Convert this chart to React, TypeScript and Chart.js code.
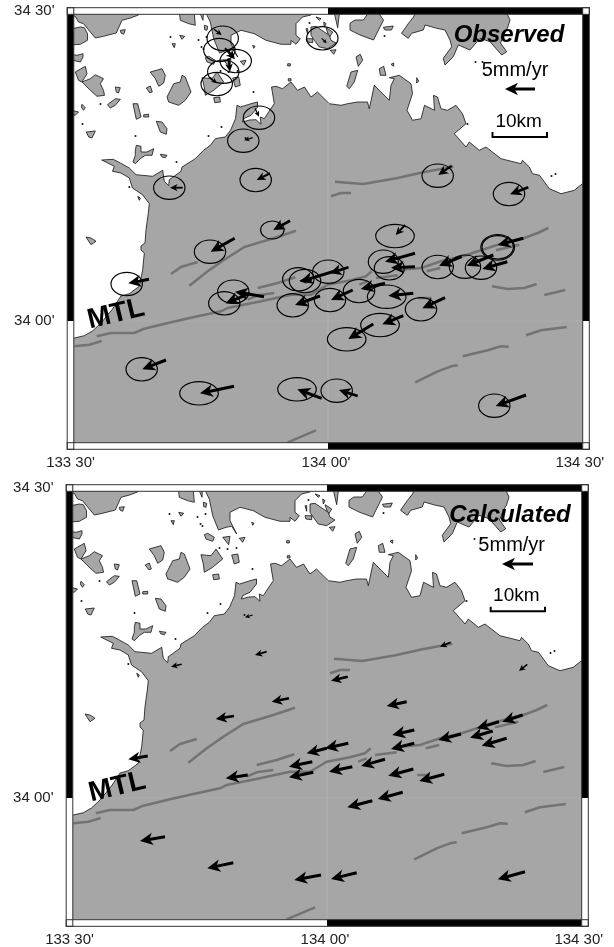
import React, { useEffect, useRef } from "react";
import { Chart, registerables } from "chart.js";
Chart.register(...registerables);

type P = [number, number];
// Map grid: x 0..515.5 spans 133 30' .. 134 30', y 0..435 runs south from 34 30'.
const xTickValues = [0, 257.5, 515.5];
const xTickLabels = ["133 30'", "134 00' ", "134 30'   "];
const yTickValues = [0, 310];
const yTickLabels = ["34 30'", "34 00'"];

const shikoku: P[] = [[-5,327],[3.8,327],[13.8,324.7],[22,320],[30.5,312],[42,298],[50.5,285],[58.8,282.7],[68.8,275.3],[72.2,258.7],[73.8,242],[70.5,239],[70.5,235],[74.5,232],[75.5,218.7],[77.8,202],[78.8,192.7],[72,183.7],[62,177],[58.8,167],[50.5,162],[42,160.3],[43.8,155.3],[31.2,149],[42.8,148.3],[49.8,152],[58.8,157],[65.5,163.7],[82.2,165.3],[92.2,159.3],[93.8,170.3],[98.2,174.7],[98.8,168.7],[110.5,160.3],[111.5,156],[124.8,147.7],[133,139.3],[139.8,134.3],[144.8,127.7],[154.8,126],[160,119.3],[165,107.7],[166.5,94.3],[170,96],[180.5,92.7],[187,91],[187,96],[180.5,104.3],[173,107.7],[172,111],[179,109],[185.5,108.7],[190.5,113.3],[189.8,106],[193.8,107.7],[198.8,100],[203.8,92.7],[201,76],[205.5,75.3],[212,77.7],[220.5,71],[227,79.3],[234,76],[240.5,86],[247,81],[258.8,92.7],[270.5,94.3],[277,92.7],[287,91],[297,91],[298.8,97.7],[303.8,74.3],[318.8,89.3],[320.5,74.3],[323.8,67.7],[318.8,66.7],[328.8,64.3],[340.5,72.7],[342,82.7],[336.5,99.3],[342,109.3],[350.5,107.7],[354,94.3],[364,99.3],[363,84.3],[367,86],[370.5,97.7],[377,99.3],[385.5,94.3],[392,102.7],[395.5,112.7],[383.8,122.7],[395.5,136],[398.8,131],[408.8,139.3],[415.5,136],[430.5,147.7],[450.5,152.7],[452,149.3],[458.8,156],[462,162.7],[469,164.3],[478.8,177.7],[490.5,182.7],[503.8,179.3],[512,172.7],[525,168],[525,445],[-5,445]];

const honshuWest: P[] = [[-5,-5],[68,-5],[68,4],[60,7],[51.5,9.3],[45.8,22],[33,25.3],[24.8,27],[19,20],[13,12.7],[8,11],[4.8,5.3],[-5,5]];
const honshuMid: P[] = [[136.5,-5],[240.5,-5],[240.5,4],[232,6],[225.5,12.7],[225.5,24.3],[229.8,27.7],[225.5,33.3],[220.5,29.3],[220.5,33.3],[210.5,33.3],[195.5,29.3],[183.8,22.7],[170.5,19.3],[160.5,24.3],[160.5,32.7],[167.2,46],[162.2,38.3],[156.5,39.3],[149,42],[143.2,27.7],[141.5,19.3],[139.8,11],[136.5,4.3]];
const honshuEast: P[] = [[331,22.3],[338,12.3],[343,6],[348,-5],[433,-5],[439.5,9],[437,17],[434,22],[430,32],[436.2,40.7],[431.2,44],[419.5,30.7],[409.5,27.3],[399.5,39],[387.8,34],[382.8,45.7],[374.5,54],[372.8,47.3],[381.2,35.7],[379.5,29],[374.5,19],[366.2,17.3],[354.5,14],[352.8,19],[341.2,22.3],[337.8,27.3]];

const islands: P[][] = [
  [[-5,19],[9.8,16],[13.8,16.7],[17,22.7],[17,29.3],[9.8,33.3],[-5,34.3]],
  [[-5,42.7],[6.5,44.3],[12.5,42.7],[12.5,46],[9.8,51],[-5,47.7]],
  [[4.8,61],[14.8,55.3],[16.5,62.7],[11.5,71],[8,69.3]],
  [[11.5,71],[19.8,67.7],[24.8,63.7],[33,67.7],[29.8,72.7],[33,79.3],[34,84.3],[26.5,85.3],[19.8,79.3]],
  [[44.8,76],[49.8,76.7],[48,82],[45.8,81]],
  [[37,93.7],[44.8,87.7],[49.8,88.3],[44.8,94.3],[39.8,97]],
  [[-5,97.7],[8,101],[4.8,104.3],[-5,102.7]],
  [[11.5,93.3],[14.8,96.7],[13,99.3],[10.8,96]],
  [[15.8,121],[24.8,120],[21.5,127],[18.2,126]],
  [[62.5,92.7],[67.2,92.7],[70.5,106],[65.8,108.3]],
  [[73.2,103.7],[78.2,103.3],[78.2,106],[73.2,106]],
  [[85.8,110.3],[91.5,111],[96.5,117.7],[95.8,123.3],[89.8,121]],
  [[89.8,143.3],[96.5,144.3],[94.8,146.7],[91.5,146]],
  [[65.8,134.3],[70.5,135.3],[70.5,141],[76.5,141],[83.2,137.7],[81.5,144.3],[74.8,144.3],[69.8,147.7],[64.8,152.7],[62.5,151],[64.8,144.3],[64.8,139.3]],
  [[79.8,61],[91.5,57.7],[94.8,64.3],[93.2,72],[88.2,75.3],[84.8,67.7]],
  [[75.8,77],[79.8,75],[81.8,81],[79.2,81.7]],
  [[111.5,64.3],[114.8,66],[120.5,81],[114.8,89.3],[108.2,94.3],[98.2,91],[96.5,86],[103.2,72.7],[109.8,71]],
  [[49.8,19.3],[54.8,18.7],[53.2,23.3],[50.5,22]],
  [[109.2,24.3],[114.2,25.3],[111.5,28.3]],
  [[101.5,32.7],[104.8,32.7],[103.8,36.7]],
  [[108.2,-5],[123.2,-5],[124.8,14.3],[118.2,12.7],[109.8,9.3]],
  [[126.5,-5],[133.2,-5],[132.5,9.3]],
  [[133.8,14.3],[137.2,15.3],[136.5,19.3],[134.2,18.7]],
  [[134.8,46.7],[138.2,45.3],[144.8,49.3],[143.2,53.3],[136.5,51]],
  [[153.2,49.3],[160.5,48.3],[159.2,56.7]],
  [[169.8,50.3],[175.5,49.3],[173.2,54.3]],
  [[131.5,66.7],[141.5,67.7],[146.5,61],[153.2,71],[143.2,79.3],[134.8,84.3],[133.8,76]],
  [[162.2,67],[168.2,66],[169.8,74.3],[164.8,76]],
  [[143.2,86.7],[149.2,86],[149.8,91],[144.2,91.7]],
  [[240.5,16],[245.5,15.3],[253.8,21],[258.8,24.3],[260.5,29.3],[265.5,32],[257.2,37.7],[248.8,36],[243.8,29.3],[240.5,24.3]],
  [[235.5,17.7],[237.2,17.7],[237.2,23.3]],
  [[235.5,27.7],[242.2,27.7],[242.2,31.7],[236.5,31]],
  [[245.5,6],[250.5,7.7],[248.8,9.3]],
  [[253.2,11],[255.5,12.7],[253.8,16]],
  [[255.5,16.7],[262.2,21],[258.8,26.7]],
  [[259.8,39.3],[265.5,38.7],[263.2,43.3]],
  [[262.2,-5],[269.8,-5],[267.2,16.7]],
  [[279.5,12.3],[284.5,9],[292.8,9],[303,-5],[313,9],[303,29],[289.5,24],[279.5,19]],
  [[312.8,16.3],[322.8,15],[321,19],[314.5,19]],
  [[285.5,46],[289.8,43.3],[292.2,49.3],[287.8,55.3]],
  [[280.5,61],[287.2,59.3],[283.8,71],[278.8,77.7],[276.2,75.3]],
  [[308.8,57.7],[313.2,55.3],[315.5,64.3],[309.8,64.3]],
  [[320.5,53.3],[323.2,52],[323.2,55.3]],
  [[346.2,66.7],[348.2,70],[346.2,72]],
  [[217.2,52.7],[219.8,52.7],[219.8,55],[217.2,55]],
  [[217.8,67.7],[220.5,67.7],[220.5,70],[217.8,70]],
  [[182.2,34.3],[184.5,35.3],[183.2,37.3]],
  [[15.5,226],[20.5,227],[25.5,230.3],[20.5,233.7]],
  [[67.2,185.3],[69.8,187],[68.8,189.3]],
];

const specks: P[] = [[100,26],[136,26],[128,29],[131,36],[133,38],[30,93],[12,113],[65,125],[138,125],[151,116],[106,151],[175,127],[58.8,176],[239,12],[314,25],[183,81],[397,113],[412,51],[405,51],[481,165],[485,163],[167,60],[150,60],[158,61]];

const faults: P[][] = [
  [[26.2,325.3],[40.5,322],[63.8,322],[73.8,317.7],[100.5,311.3],[123.8,306],[150.5,300.3],[157.2,297],[190.5,290.3],[220.5,283.7],[240.5,283.7],[257.2,273.7],[280.5,269.3],[295.5,265.3],[301.2,260.3]],
  [[3.8,335.3],[18.8,333.7],[31.2,330]],
  [[118.8,274.7],[137.2,260.3],[153.8,248.7],[173.8,236],[203.8,227],[225.5,219.7]],
  [[100.5,263],[110.5,256],[127.2,251]],
  [[187.2,277],[207.2,272],[224.8,266.3]],
  [[177.2,288.7],[187.2,284.3],[203.8,282]],
  [[264.5,170.7],[292.8,173],[326,167.3],[352.8,161.3],[382.8,155.7]],
  [[260.5,185.3],[270.5,182],[280.5,182]],
  [[305.5,267],[327.2,264.3]],
  [[288.8,273.7],[297.2,270.3]],
  [[330.5,258.7],[350.5,257],[370.5,250.3],[393.8,244.7],[427.2,233.7],[453.8,227],[467.2,222],[477.8,217]],
  [[356.2,260.3],[369.8,257]],
  [[425.5,239.3],[448.8,233.7]],
  [[421.5,275.3],[437.2,278],[453.8,277],[466.2,273]],
  [[473.8,284],[494.8,279]],
  [[455.5,324.3],[470.5,319.3],[496.2,316]],
  [[392.2,345.3],[417.2,339.3],[430.5,335.3],[438.2,335.7]],
  [[344.8,371.3],[367.2,360.3],[380.5,355.3],[387.2,354.3]],
  [[347.8,287],[360.5,287]],
  [[217.2,431.3],[245.5,419.3]],
];

const graticule: P[][] = [[[257.5,92],[257.5,435]],[[34,310],[515.5,310]]];

// tail x, tail y, head x, head y
const observedArrows: number[][] = [
  [143.5,18.3,151.2,24],[157.8,39,162.8,45.7],[154.5,37.3,164.5,48.3],[157.8,47.3,159.5,60.7],[139.5,66.3,146.2,72.3],
  [184.5,97.3,188.5,105.7],[182.2,126.7,173.8,129.3],[199.5,162.3,186.2,169],[112.2,176.7,99.5,176.7],[251.2,27.3,256.2,32.3],
  [381.2,154.7,367.8,164],[457.8,176.3,439.5,183.3],[334.5,214,325.2,224],[219.5,209.7,202.8,219],[164.2,227.3,140.2,240.7],
  [78.5,268.3,57.8,272.3],[193.5,285.7,164.5,280.7],[179.5,282.3,155.2,292.3],[95.5,349,71.8,358.3],[163.5,375.3,129.5,382.3],
  [251.2,387.3,226.8,378.3],[278,256.3,259.5,262.3],[267.8,259,229.5,270.7],[241.2,269,228.8,269.7],[249.5,285,224.5,294],
  [282.2,279,260.5,289],[314.5,272.3,290.2,278],[342.8,282.3,317.8,284.7],[332.8,304.7,311.8,313.3],[302.8,313,277.8,328],
  [344.5,242.3,314.5,250.7],[344.5,255.7,320.5,256.7],[391.2,245.7,368.5,254.7],[422.8,244,396.2,254.7],[436.8,250.7,411.8,258],
  [452.8,227.3,427.2,234],[374.5,286.7,351.8,297.3],[455.5,384,425.2,395],[287.2,385,268.5,379],
];
// centre x, centre y, radius x, radius y
const observedEllipses: number[][] = [
  [152.2,27.3,15.7,12.3],[148.8,39,15.7,11.7],[165.2,50,15.7,11.7],[152.8,60.7,15.7,11.7],[146.2,73,15.7,11.7],
  [188.5,106.7,15.7,11.7],[172.8,129.7,15.7,11.7],[185.2,169,15.7,11.7],[98.8,176.7,15.7,11.7],[251.8,27.3,15.7,11.7],
  [367.2,164.7,15.7,11.7],[438.5,183,15.7,11.7],[324.5,225,19.3,11.7],[201.8,219,11.7,9],[139.5,240.7,15.7,11.7],
  [56.2,273,15.7,11.7],[162.8,280.7,15.7,11.7],[153.8,292.3,15.7,11.7],[71.2,358.3,15.7,11.7],[128.5,382.3,19.3,11.7],
  [226.5,378.3,19.3,11.7],[257.8,260.7,15.7,11.7],[234.5,270,15.7,11.7],[227.8,268.3,15.7,11.7],[222.2,294.3,15.7,11.7],
  [259.5,289,15.7,11.7],[288.5,280,15.7,11.7],[316.2,285.7,19.3,11.7],[309.5,314,19.3,11.7],[276.2,328.3,19.3,11.7],
  [312.8,250.7,15,11.7],[318.8,257.3,15,11.7],[367.2,256,15.7,11.7],[394.5,255.7,15.7,11.7],[410.5,256.7,15.7,11.7],
  [427.2,236.3,15.7,11.7],[427.2,236.3,16.8,12.8],[350.5,298.3,15.7,11.7],[423.8,394.7,15.7,11.7],[266.2,379.7,15.7,11.7],
];
const calculatedArrows: number[][] = [
  [78.2,268,58.8,271.3],[178.2,287,156.2,290.3],[219.5,210.3,202.2,213.7],[164.5,228,146.2,231],[95.5,348.7,70.5,353],
  [163.8,374.7,137.8,380.3],[251.5,387,224.8,392],[242.8,273.7,219.5,278.7],[243.8,284.3,219.5,289.3],[257.2,260.3,237.2,265.3],
  [278.8,255.3,255.5,260.3],[278.2,188.7,261.5,192.7],[337.2,213.7,317.2,218],[344.8,242,322.8,247],[344.8,255.3,321.5,261],
  [391.5,246,368.8,252],[429.5,233.7,407.2,240.3],[453.2,227,432.8,233.7],[423.2,243,400.5,249.7],[437.2,250.3,412.2,257.7],
  [282.8,278.7,259.5,283.7],[315.5,271.3,291.5,278],[343.8,281,318.8,287.7],[374.8,286.3,349.8,293],[333.2,304.3,308.2,311],
  [302.8,312.7,277.8,319.3],[287.2,384.7,261.5,391],[455.5,383.7,428.2,391.3],[457.8,176.3,449.5,183],[381.2,154.3,370.5,158.7],
  [183.2,127,175.5,129.3],[197.2,163.7,185.5,167],[112.2,176.3,101.5,178.7],
];

interface Panel {
  canvasH: number; left: number; right: number;
  arrows: number[][]; ellipses: number[][];
  refArrow: number[]; bar: P[];
  labels: { text: string; x: number; y: number; font: string; rot?: number }[];
}
const panels: Panel[] = [
  {
    canvasH: 477, left: 70.5, right: 28,
    arrows: observedArrows, ellipses: observedEllipses,
    refArrow: [464.5,78,434.5,78],
    bar: [[422,121],[422,126],[476.5,126],[476.5,121]],
    labels: [
      { text: "Observed", x: 438.5, y: 24, font: "italic bold 24px 'Liberation Sans'" },
      { text: "5mm/yr", x: 444.5, y: 59, font: "20px 'Liberation Sans'" },
      { text: "10km", x: 448.2, y: 111, font: "19px 'Liberation Sans'" },
      { text: "MTL", x: 45.5, y: 303.3, font: "bold 28px 'Liberation Sans'", rot: -13.4 },
    ],
  },
  {
    canvasH: 470, left: 69.5, right: 29,
    arrows: calculatedArrows, ellipses: [],
    refArrow: [463.5,76,432.5,76],
    bar: [[421.2,118.7],[421.2,123.3],[475.5,123.3],[475.5,118.7]],
    labels: [
      { text: "Calculated", x: 440.5, y: 27, font: "italic bold 24px 'Liberation Sans'" },
      { text: "5mm/yr", x: 442.2, y: 57, font: "20px 'Liberation Sans'" },
      { text: "10km", x: 446.8, y: 108, font: "19px 'Liberation Sans'" },
      { text: "MTL", x: 47.8, y: 299.3, font: "bold 28px 'Liberation Sans'", rot: -13.4 },
    ],
  },
];

const LAND = "#a6a6a6";

const mapPlugin = {
  id: "mapPlugin",
  beforeDatasetDraw(chart: any, args: any) {
    const ds = chart.data.datasets[args.index];
    if (ds.kind !== "land") return;
    const ctx = chart.ctx;
    const pts = args.meta.data;
    const a = chart.chartArea;
    ctx.save();
    ctx.beginPath();
    ctx.rect(a.left, a.top, a.right - a.left, a.bottom - a.top);
    ctx.clip();
    ctx.beginPath();
    pts.forEach((p: any, i: number) => (i ? ctx.lineTo(p.x, p.y) : ctx.moveTo(p.x, p.y)));
    ctx.closePath();
    ctx.fillStyle = LAND;
    ctx.fill();
    ctx.strokeStyle = "#111";
    ctx.lineWidth = 0.8;
    ctx.lineJoin = "round";
    ctx.stroke();
    ctx.restore();
  },
  afterDatasetDraw(chart: any, args: any) {
    const ds = chart.data.datasets[args.index];
    const ctx = chart.ctx;
    if (ds.kind === "ellipse") {
      const xs = chart.scales.x, ys = chart.scales.y;
      ctx.save();
      ctx.strokeStyle = "#000";
      ctx.lineWidth = 1.15;
      ds.data.forEach((d: any) => {
        const cx = xs.getPixelForValue(d.x), cy = ys.getPixelForValue(d.y);
        const rx = Math.abs(xs.getPixelForValue(d.x + d.rx) - cx);
        const ry = Math.abs(ys.getPixelForValue(d.y + d.ry) - cy);
        ctx.beginPath();
        ctx.ellipse(cx, cy, rx, ry, 0, 0, Math.PI * 2);
        ctx.stroke();
      });
      ctx.restore();
    }
    if (ds.kind === "arrow") {
      const [t, h] = args.meta.data;
      const dx = h.x - t.x, dy = h.y - t.y;
      const len = Math.hypot(dx, dy);
      const ux = dx / len, uy = dy / len;
      const L = Math.min(13, len * 0.6);
      const W = L * 0.48;
      const lw = Math.min(3, Math.max(1.1, len / 7));
      ctx.save();
      ctx.strokeStyle = "#000";
      ctx.fillStyle = "#000";
      ctx.lineWidth = lw;
      ctx.beginPath();
      ctx.moveTo(t.x, t.y);
      ctx.lineTo(h.x - ux * L * 0.6, h.y - uy * L * 0.6);
      ctx.stroke();
      ctx.beginPath();
      ctx.moveTo(h.x, h.y);
      ctx.lineTo(h.x - ux * L - uy * W, h.y - uy * L + ux * W);
      ctx.lineTo(h.x - ux * L * 0.72, h.y - uy * L * 0.72);
      ctx.lineTo(h.x - ux * L + uy * W, h.y - uy * L - ux * W);
      ctx.closePath();
      ctx.fill();
      ctx.restore();
    }
  },
  afterDraw(chart: any) {
    const ctx = chart.ctx;
    const xs = chart.scales.x, ys = chart.scales.y;
    const panel: Panel = chart.options.plugins.mapPlugin.panel;
    const x0 = xs.getPixelForValue(0), xm = xs.getPixelForValue(xTickValues[1]), x1 = xs.getPixelForValue(xTickValues[2]);
    const y0 = ys.getPixelForValue(0), ym = ys.getPixelForValue(yTickValues[1]), y1 = ys.getPixelForValue(435);
    const b = 3.3;
    const band = (x: number, y: number, w: number, h: number, c: string) => {
      ctx.fillStyle = c;
      ctx.fillRect(x, y, w, h);
    };
    ctx.save();
    band(x0 - b, y0 - b, xm - x0 + b, 2 * b, "#fff");
    band(xm, y0 - b, x1 - xm + b, 2 * b, "#000");
    band(x0 - b, y1 - b, xm - x0 + b, 2 * b, "#fff");
    band(xm, y1 - b, x1 - xm + b, 2 * b, "#000");
    band(x0 - b, y0 - b, 2 * b, ym - y0 + b, "#000");
    band(x0 - b, ym, 2 * b, y1 - ym + b, "#fff");
    band(x1 - b, y0 - b, 2 * b, ym - y0 + b, "#000");
    band(x1 - b, ym, 2 * b, y1 - ym + b, "#fff");
    [[x0, y0], [x1, y0], [x0, y1], [x1, y1]].forEach(([x, y]) => band(x - b, y - b, 2 * b, 2 * b, "#fff"));
    ctx.strokeStyle = "#333";
    ctx.lineWidth = 1;
    ctx.strokeRect(x0 - b, y0 - b, x1 - x0 + 2 * b, y1 - y0 + 2 * b);
    ctx.strokeRect(x0 + b, y0 + b, x1 - x0 - 2 * b, y1 - y0 - 2 * b);
    ctx.strokeRect(x0 - b, y0 - b, 2 * b, 2 * b);
    ctx.strokeRect(x1 - b, y0 - b, 2 * b, 2 * b);
    ctx.strokeRect(x0 - b, y1 - b, 2 * b, 2 * b);
    ctx.strokeRect(x1 - b, y1 - b, 2 * b, 2 * b);
    ctx.fillStyle = "#000";
    ctx.textAlign = "center";
    ctx.textBaseline = "middle";
    panel.labels.forEach((l) => {
      ctx.save();
      ctx.translate(xs.getPixelForValue(l.x), ys.getPixelForValue(l.y));
      if (l.rot) ctx.rotate((l.rot * Math.PI) / 180);
      ctx.font = l.font;
      ctx.fillText(l.text, 0, 0);
      ctx.restore();
    });
    ctx.restore();
  },
};

const toXY = (pts: P[]) => pts.map(([x, y]) => ({ x, y }));

function buildDatasets(p: Panel) {
  const sets: any[] = [];
  const base = { type: "scatter", pointRadius: 0, pointHoverRadius: 0, showLine: false };
  [shikoku, honshuWest, honshuMid, honshuEast, ...islands].forEach((poly) =>
    sets.push({ ...base, kind: "land", order: 9, data: toXY(poly) })
  );
  sets.push({ ...base, kind: "speck", order: 8, data: toXY(specks), pointRadius: 1, pointBackgroundColor: "#111", pointBorderWidth: 0 });
  graticule.forEach((g) =>
    sets.push({ ...base, order: 7, showLine: true, data: toXY(g), borderColor: "#afafaf", borderWidth: 0.7 })
  );
  faults.forEach((f) =>
    sets.push({ ...base, order: 6, showLine: true, data: toXY(f), borderColor: "#737373", borderWidth: 2.5, borderCapStyle: "butt", borderJoinStyle: "round" })
  );
  if (p.ellipses.length)
    sets.push({ ...base, kind: "ellipse", order: 5, data: p.ellipses.map(([x, y, rx, ry]) => ({ x, y, rx, ry })) });
  [...p.arrows, p.refArrow].forEach(([a, b, c, d]) =>
    sets.push({ ...base, kind: "arrow", order: 4, data: [{ x: a, y: b }, { x: c, y: d }] })
  );
  sets.push({ ...base, order: 3, showLine: true, data: toXY(p.bar), borderColor: "#000", borderWidth: 2, borderJoinStyle: "miter" });
  return sets;
}

function MapPanel({ panel, top }: { panel: Panel; top: number }) {
  const ref = useRef<HTMLCanvasElement | null>(null);
  useEffect(() => {
    const chart = new Chart(ref.current as HTMLCanvasElement, {
      type: "scatter",
      data: { datasets: buildDatasets(panel) as any },
      plugins: [mapPlugin as any],
      options: {
        responsive: false,
        animation: false,
        events: [],
        layout: { padding: { top: 11, right: panel.right, bottom: 0, left: 0 } },
        plugins: { legend: { display: false }, tooltip: { enabled: false }, mapPlugin: { panel } } as any,
        scales: {
          x: {
            type: "linear", min: 0, max: 515.5,
            grid: { display: false, drawTicks: false }, border: { display: false },
            afterBuildTicks: (s: any) => { s.ticks = xTickValues.map((value) => ({ value })); },
            afterFit: (s: any) => { s.height = panel.canvasH - 446; s.paddingLeft = 0; s.paddingRight = 0; },
            ticks: {
              autoSkip: false, maxRotation: 0, padding: 8, color: "#222",
              font: { family: "'Liberation Sans'", size: 15 },
              callback: (_v: any, i: number) => xTickLabels[i],
            },
          },
          y: {
            type: "linear", min: 0, max: 435, reverse: true,
            grid: { display: false, drawTicks: false }, border: { display: false },
            afterBuildTicks: (s: any) => { s.ticks = yTickValues.map((value) => ({ value })); },
            afterFit: (s: any) => { s.width = panel.left; s.paddingTop = 0; s.paddingBottom = 0; },
            ticks: {
              autoSkip: false, padding: 16, color: "#222",
              font: { family: "'Liberation Sans'", size: 15 },
              callback: (_v: any, i: number) => yTickLabels[i],
            },
          },
        },
      } as any,
    });
    return () => chart.destroy();
  }, [panel]);
  return (
    <canvas
      ref={ref}
      width={614}
      height={panel.canvasH}
      style={{ position: "absolute", left: 0, top, width: 614, height: panel.canvasH, display: "block" }}
    />
  );
}

export default function App() {
  return (
    <div style={{ position: "absolute", left: 0, top: 0, width: 614, height: 947, background: "#fff", overflow: "hidden" }}>
      <MapPanel panel={panels[0]} top={0} />
      <MapPanel panel={panels[1]} top={477} />
    </div>
  );
}
